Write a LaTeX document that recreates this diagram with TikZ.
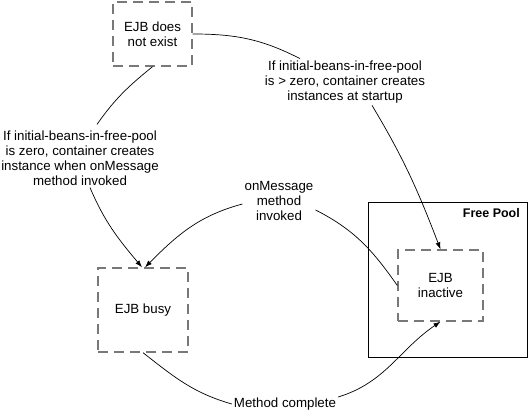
\documentclass[tikz,border=0pt]{standalone}
\usepackage{fontspec}
\setmainfont{Liberation Sans}
\usetikzlibrary{arrows.meta,positioning}
\definecolor{boxgray}{RGB}{120,120,120}

\begin{document}
\begin{tikzpicture}[x=1pt,y=1pt,
  every node/.style={font=\fontsize{13.3}{15}\selectfont},
  state/.style={shape=rectangle,draw=boxgray,line width=1.4pt,dash pattern=on 10pt off 6pt,minimum width=85pt,minimum height=71pt,align=center},
  note/.style={align=center,inner sep=2pt},
  link/.style={black,line width=0.7pt},
  flow/.style={link,-{Latex[length=7pt,width=5pt]}}]

\useasboundingbox (0,0) rectangle (531,415);

% Free pool
\node [shape=rectangle,draw=black,line width=0.8pt,minimum width=159pt,minimum height=155pt] at (447.5,135.5) (pool) {};
\node [anchor=north east,font=\bfseries\fontsize{12.5}{15}\selectfont] at ([xshift=-4pt,yshift=-3pt]pool.north east) (pooltitle) {Free Pool};

% Top
\node [state,minimum width=79pt,minimum height=64pt] at (152.5,381) (absent) {EJB does\\not exist};

% Middle row
\node [note] at (80,257) (zerocase) {If initial-beans-in-free-pool\\is zero, container creates\\instance when onMessage\\method invoked};
\node [note] at (345,333) (startcase) {If initial-beans-in-free-pool\\is > zero, container creates\\instances at startup};
\node [note] at (279,214) (invoked) {onMessage\\method\\invoked};

% Bottom row
\node [state,minimum width=90pt,minimum height=84pt] at (143,105) (busy) {EJB busy};
\node [state] at (440.5,129.5) (inactive) {EJB\\inactive};
\node [note] at (285,11) (complete) {Method complete};

% Connectors
\draw [link] (absent.south) to[out=219,in=55] ([xshift=17pt,yshift=4pt]zerocase.north);
\draw [flow] ([xshift=10pt]zerocase.south) to[out=293,in=130] ([xshift=-1pt]busy.north);
\draw [flow] ([yshift=-3pt]invoked.west) to[out=195,in=45] ([xshift=2pt]busy.north);
\draw [link] ([yshift=-9pt]invoked.east) to[out=333,in=125] (inactive.west);
\draw [link] (absent.east) to[out=0,in=153] ([xshift=-45pt]startcase.north);
\draw [flow] ([xshift=27pt]startcase.south) to[out=301,in=111] (inactive.north);
\draw [link] (busy.south) to[out=322,in=164] (complete.west);
\draw [flow] ([yshift=7pt]complete.east) to[out=17,in=214] (inactive.south);

\end{tikzpicture}
\end{document}
